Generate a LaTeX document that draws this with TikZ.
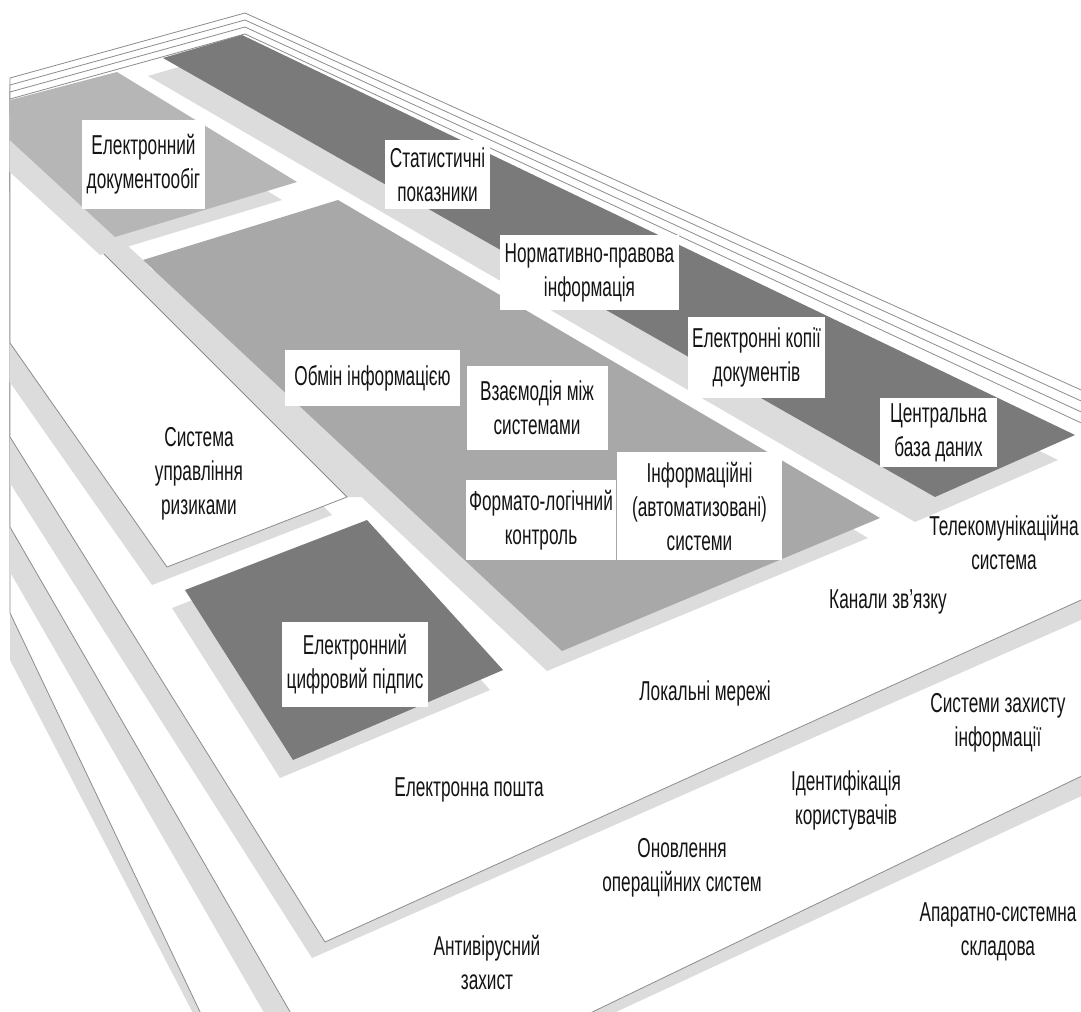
\documentclass[tikz,border=0pt]{standalone}
\usepackage{fontspec}
\setmainfont[FakeStretch=0.63]{Liberation Sans}
\definecolor{darkplate}{RGB}{122,122,122}
\definecolor{midplate}{RGB}{168,168,168}
\definecolor{softplate}{RGB}{182,182,182}
\definecolor{rim}{RGB}{220,220,220}
\definecolor{edge}{RGB}{140,140,140}
\definecolor{ink}{RGB}{20,20,20}
\begin{document}
\begin{tikzpicture}[x=0.75pt,y=-0.75pt,
  lab/.style={font=\fontsize{20.5}{25.5}\selectfont,text=ink,align=center,inner sep=0pt},
  box/.style 2 args={lab,fill=white,minimum width={#1*0.75pt},minimum height={#2*0.75pt}},
  face/.style={fill=white,draw=edge,line width=0.6pt,line join=miter},
  thin/.style={draw=edge,line width=0.6pt}]
\useasboundingbox (0,0) rectangle (1081,1012);
\fill[white] (0,0) rectangle (1081,1012);
\begin{scope}
  \clip (9.4,0) rectangle (1081,1012);
  % hardware layer (bottom)
  \fill[rim] (10,110) -- (1090,440) -- (1090,1100) -- (238,1100) -- (10,660) -- cycle;
  \draw[face] (10,78) -- (245,13) -- (1090,394) -- (1090,1100) -- (242,1100) -- (10,613) -- cycle;
  % protection layer
  \fill[rim] (10,110) -- (1090,445) -- (1090,792) -- (338,1141) -- (10,572) -- cycle;
  \draw[face] (10,85) -- (245,20) -- (1090,405) -- (1090,772) -- (356,1126) -- (10,527) -- cycle;
  % telecommunication layer (top)
  \fill[rim] (10,110) -- (1090,440) -- (1090,616) -- (312,958) -- (10,483) -- cycle;
  \draw[face] (10,92) -- (245,27) -- (1090,416) -- (1090,596) -- (325,942) -- (10,437) -- cycle;
  \draw[thin] (10,99) -- (245,34) -- (1090,427);
  % rims of the blocks lying on the top layer
  \fill[rim] (10,136) -- (143,260) -- (361,497) -- (347,497) -- (10,160) -- cycle;
  \fill[rim] (128,278) -- (323,218) -- (868,538) -- (547,671) -- cycle;
  \fill[rim] (-5,178) -- (332,515) -- (152,585) -- (-5,361) -- cycle;
  \draw[face] (10,160) -- (347,497) -- (167,567) -- (10,343) -- cycle;
  \fill[rim] (-39,127) -- (102,90) -- (282,200) -- (100,255) -- cycle;
  \fill[softplate] (-24,109) -- (117,72) -- (297,182) -- (115,237) -- cycle;
  \fill[midplate] (143,260) -- (338,200) -- (880,518) -- (562,651) -- cycle;
  \fill[rim] (148,76) -- (227,53) -- (1058,460) -- (915,522) -- cycle;
  \fill[darkplate] (163,58) -- (242,35) -- (1075,435) -- (935,497) -- cycle;
  \fill[rim] (172,608) -- (354,538) -- (490,690) -- (280,778) -- cycle;
  \fill[darkplate] (185,590) -- (367,520) -- (503,670) -- (293,760) -- cycle;
\end{scope}
% labels in boxes
\node[box={123}{89}] (edoc) at (143.5,164.5) {Електронний\\документообіг};
\node[box={105}{69}] (stat) at (437.5,174.5) {Статистичні\\показники};
\node[box={179}{75}] (norm) at (589.5,272.5) {Нормативно-правова\\інформація};
\node[box={137}{81}] (copies) at (756.5,357.5) {Електронні копії\\документів};
\node[box={117}{69}] (cdb) at (938.5,432.5) {Центральна\\база даних};
\node[box={175}{56}] (exch) at (372.5,378) {Обмін інформацією};
\node[box={141}{84}] (inter) at (537,408) {Взаємодія між\\системами};
\node[box={150}{80}] (fmt) at (541,520) {Формато-логічний\\контроль};
\node[box={165}{108}] (ais) at (699.5,506) {Інформаційні\\(автоматизовані)\\системи};
\node[box={146}{85}] (eds) at (355,664.5) {Електронний\\цифровий підпис};
% labels on the layers
\node[lab] (risk) at (199,474) {Система\\управління\\ризиками};
\node[lab] (tele) at (1004,542) {Телекомунікаційна\\система};
\node[lab] (chan) at (888,602) {Канали зв’язку};
\node[lab] (lan) at (705,693) {Локальні мережі};
\node[lab] (sec) at (998,723) {Системи захисту\\інформації};
\node[lab] (mail) at (469,790) {Електронна пошта};
\node[lab] (ident) at (846,800) {Ідентифікація\\користувачів};
\node[lab] (upd) at (682,868) {Оновлення\\операційних систем};
\node[lab] (av) at (487,962) {Антивірусний\\захист};
\node[lab] (hw) at (998,932) {Апаратно-системна\\складова};
\end{tikzpicture}
\end{document}
